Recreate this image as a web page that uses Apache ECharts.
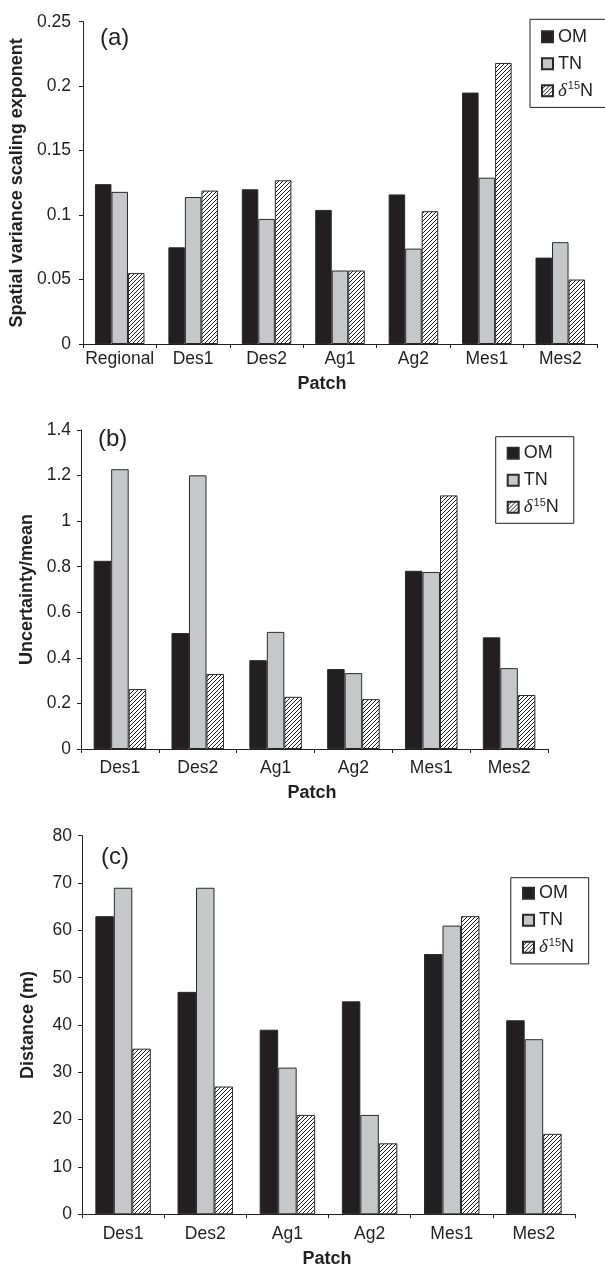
<!DOCTYPE html>
<html>
<head>
<meta charset="utf-8">
<script src="https://cdn.jsdelivr.net/npm/echarts@6/dist/echarts.min.js"></script>
<style>html,body{margin:0;padding:0;background:#fff;}#c{width:605px;height:1268px;}</style>
</head>
<body>
<div id="c"></div>
<script>
// ---- data ----
const patchesA = ['Regional', 'Des1', 'Des2', 'Ag1', 'Ag2', 'Mes1', 'Mes2'];
const omA   = [0.124, 0.075, 0.120, 0.104, 0.116, 0.195, 0.067];
const tnA   = [0.118, 0.114, 0.097, 0.057, 0.074, 0.129, 0.079];
const d15nA = [0.055, 0.119, 0.127, 0.057, 0.103, 0.218, 0.050];

const patchesB = ['Des1', 'Des2', 'Ag1', 'Ag2', 'Mes1', 'Mes2'];
const omB   = [0.826, 0.509, 0.390, 0.351, 0.782, 0.490];
const tnB   = [1.228, 1.201, 0.514, 0.333, 0.777, 0.355];
const d15nB = [0.263, 0.329, 0.229, 0.219, 1.113, 0.237];

const patchesC = ['Des1', 'Des2', 'Ag1', 'Ag2', 'Mes1', 'Mes2'];
const omC   = [63, 47, 39, 45, 55, 41];
const tnC   = [69, 69, 31, 21, 61, 37];
const d15nC = [35, 27, 21, 15, 63, 17];

const seriesNames = ['OM', 'TN', 'δ15N'];

// ---- styling ----
const INK = '#231f20';
const FONT = 'Liberation Sans, Arial, sans-serif';

const hatch = document.createElement('canvas');
hatch.width = 4; hatch.height = 4;
(function () {
  const g = hatch.getContext('2d');
  g.fillStyle = '#ffffff'; g.fillRect(0, 0, 4, 4);
  g.strokeStyle = '#1e1e1e'; g.lineWidth = 1;
  g.beginPath();
  g.moveTo(-1, 5); g.lineTo(5, -1);
  g.moveTo(-1, 1); g.lineTo(1, -1);
  g.moveTo(3, 5); g.lineTo(5, 3);
  g.stroke();
})();

const fills = [INK, '#c5c7c9', { image: hatch, repeat: 'repeat' }];

const grids = [
  { left: 83, top: 21.7, width: 514, height: 322.3 },
  { left: 81, top: 430, width: 467, height: 319 },
  { left: 82, top: 835.7, width: 493, height: 378.6 }
];

const yDefs = [
  { name: 'Spatial variance scaling exponent', max: 0.25, interval: 0.05, nameGap: 55, margin: 12 },
  { name: 'Uncertainty/mean', max: 1.4, interval: 0.2, nameGap: 45, margin: 10 },
  { name: 'Distance (m)', max: 80, interval: 10, nameGap: 45, margin: 10 }
];
const xDefs = [
  { cats: patchesA, nameGap: 31, margin: 6, pad: [0, 36, 0, 0] },
  { cats: patchesB, nameGap: 35, margin: 10, pad: [0, 5, 0, 0] },
  { cats: patchesC, nameGap: 36, margin: 11, pad: [0, 3, 0, 0] }
];
const dataSets = [[omA, tnA, d15nA], [omB, tnB, d15nB], [omC, tnC, d15nC]];

const legendPos = [
  { left: 530, top: 19.3, padding: [7.4, 70, 6.7, 11] },
  { left: 495.7, top: 436.7, padding: [6.6, 15, 6, 11] },
  { left: 510.8, top: 877.7, padding: [5.6, 14.6, 6.6, 11.2] }
];
const panelLabels = [
  { text: '(a)', left: 100, top: 26 },
  { text: '(b)', left: 98, top: 427 },
  { text: '(c)', left: 101, top: 845 }
];

const axisLine = { show: true, lineStyle: { color: INK, width: 1 } };

const option = {
  animation: false,
  backgroundColor: '#ffffff',
  title: panelLabels.map(p => ({
    text: p.text, left: p.left, top: p.top, padding: 0,
    textStyle: { fontFamily: FONT, fontSize: 24, fontWeight: 'normal', color: INK }
  })),
  grid: grids.map(g => Object.assign({ outerBoundsMode: 'none', containLabel: false }, g)),
  xAxis: xDefs.map((d, i) => ({
    type: 'category', gridIndex: i, data: d.cats,
    name: 'Patch', nameLocation: 'middle', nameGap: d.nameGap,
    nameTextStyle: { fontFamily: FONT, fontSize: 18, fontWeight: 'bold', color: INK, padding: d.pad },
    axisLine: axisLine,
    axisTick: { show: true, length: 4, alignWithLabel: false, lineStyle: { color: INK } },
    axisLabel: { fontFamily: FONT, fontSize: 17.5, color: INK, margin: d.margin, interval: 0 },
    splitLine: { show: false }
  })),
  yAxis: yDefs.map((d, i) => ({
    type: 'value', gridIndex: i, min: 0, max: d.max, interval: d.interval,
    name: d.name, nameLocation: 'middle', nameGap: d.nameGap,
    nameTextStyle: { fontFamily: FONT, fontSize: 18, fontWeight: 'bold', color: INK },
    axisLine: axisLine,
    axisTick: { show: true, length: 4, lineStyle: { color: INK } },
    axisLabel: { fontFamily: FONT, fontSize: 17.5, color: INK, margin: d.margin },
    splitLine: { show: false }
  })),
  legend: legendPos.map(p => ({
    orient: 'vertical', left: p.left, top: p.top, padding: p.padding,
    data: seriesNames,
    backgroundColor: '#ffffff', borderColor: INK, borderWidth: 1, borderRadius: 0,
    itemWidth: 11, itemHeight: 11, itemGap: 7, icon: 'rect',
    selectedMode: false,
    formatter: n => n === 'δ15N' ? '{d|δ}{s|15}{n|N}' : '{n|' + n + '}',
    textStyle: {
      fontFamily: FONT, fontSize: 18, color: INK, lineHeight: 20,
      rich: {
        n: { fontFamily: FONT, fontSize: 18, color: INK, lineHeight: 20 },
        d: { fontFamily: 'Liberation Serif, serif', fontStyle: 'italic', fontSize: 19, color: INK, lineHeight: 20 },
        s: { fontFamily: FONT, fontSize: 11, color: INK, lineHeight: 11, verticalAlign: 'top', padding: [0, 0, 0, 1] }
      }
    }
  })),
  series: []
};

dataSets.forEach((set, gi) => {
  set.forEach((vals, si) => {
    option.series.push({
      type: 'bar', name: seriesNames[si], xAxisIndex: gi, yAxisIndex: gi,
      data: vals, barGap: '0%', barCategoryGap: '32.5%',
      itemStyle: { color: fills[si], borderColor: '#2a2a2a', borderWidth: 1 },
      emphasis: { disabled: true }
    });
  });
});

const chart = echarts.init(document.getElementById('c'), null, { renderer: 'canvas' });
chart.setOption(option);
</script>
</body>
</html>
